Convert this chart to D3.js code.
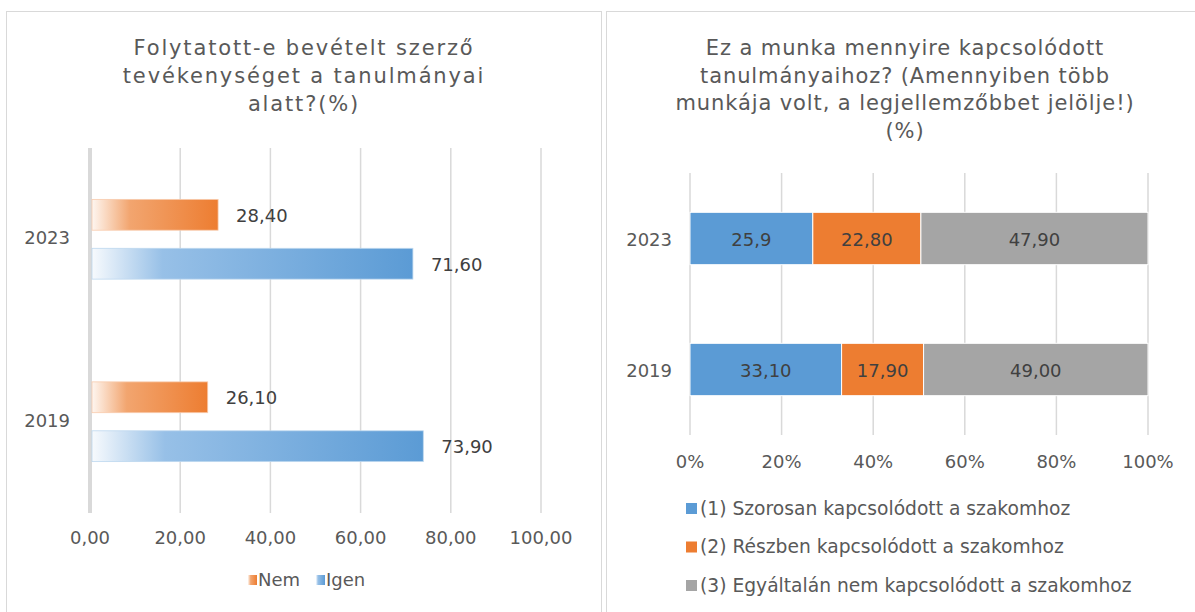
<html>
  <head>
    <meta charset="utf-8">
    <style>
body { margin: 0; background: white; }
text { font-family: 'DejaVu Sans', Verdana, sans-serif; }
.grid line { stroke: #d9d9d9; stroke-width: 1.5; }
.tick-label { fill: #595959; font-size: 18px; }
.data-label { fill: #404040; font-size: 18px; }
.title { fill: #595959; font-size: 21px; }
.legend-text { fill: #595959; font-size: 18.7px; }
    </style>
    <script src="https://d3js.org/d3.v7.min.js"></script>
  </head>
  <body>
    <script>

// left chart data
var years = ['2023', '2019'];
var seriesLeft = ['Nem', 'Igen'];
var nemValues = [28.40, 26.10];
var igenValues = [71.60, 73.90];
var ticksLeft = [0, 20, 40, 60, 80, 100];
var titleLeft = ['Folytatott-e bevételt szerző', 'tevékenységet a tanulmányai', 'alatt?(%)'];

// right chart data
var seriesRight = ['(1) Szorosan kapcsolódott a szakomhoz',
                   '(2) Részben kapcsolódott a szakomhoz',
                   '(3) Egyáltalán nem kapcsolódott a szakomhoz'];
var szorosan = [25.9, 33.10];
var reszben = [22.80, 17.90];
var egyaltalan = [47.90, 49.00];
var szorosanLabels = ['25,9', '33,10'];
var reszbenLabels = ['22,80', '17,90'];
var egyaltalanLabels = ['47,90', '49,00'];
var ticksRight = [0, 0.2, 0.4, 0.6, 0.8, 1];
var titleRight = ['Ez a munka mennyire kapcsolódott', 'tanulmányaihoz? (Amennyiben több',
                  'munkája volt, a legjellemzőbbet jelölje!)', '(%)'];

var colorsRight = ['#5b9bd5', '#ed7d31', '#a5a5a5'];

var huLocale = d3.formatLocale({decimal: ',', thousands: ' ', grouping: [3], currency: ['', '']});
var fmt2 = huLocale.format('.2f');

var width = 1195, height = 612;

var svg = d3.select('body')
    .append('svg')
    .attr('width', width)
    .attr('height', height);

var defs = svg.append('defs');

function addGradient(id, stops) {
  var g = defs.append('linearGradient')
      .attr('id', id)
      .attr('x1', '0').attr('x2', '1')
      .attr('y1', '0').attr('y2', '0');
  stops.forEach(function(s) {
    g.append('stop').attr('offset', s[0]).attr('stop-color', s[1]);
  });
}
addGradient('gradNem', [[0, '#fef6f0'], [0.3, '#f2a56f'], [1, '#ed7d31']]);
addGradient('gradIgen', [[0, '#f7fafd'], [0.22, '#97c0e7'], [1, '#5b9bd5']]);

// panel borders
svg.append('rect')
    .attr('x', 6.5).attr('y', 11.5)
    .attr('width', 595).attr('height', 620)
    .attr('fill', 'none').attr('stroke', '#d9d9d9');
svg.append('rect')
    .attr('x', 606.5).attr('y', 11.5)
    .attr('width', 620).attr('height', 620)
    .attr('fill', 'none').attr('stroke', '#d9d9d9');

// ---------- left chart ----------
var left = svg.append('g');

left.append('text')
    .attr('class', 'title')
    .attr('text-anchor', 'middle')
    .style('letter-spacing', '1.85px')
    .selectAll('tspan')
    .data(titleLeft)
    .enter().append('tspan')
    .attr('x', 304)
    .attr('y', function(d, i) { return 55 + i * 28; })
    .text(function(d) { return d; });

var xL = d3.scaleLinear().domain([0, 100]).range([90, 541]);
var yL = d3.scaleBand().domain(years).range([148, 513]).padding(0);
var ySubL = d3.scaleBand().domain(seriesLeft).range([0, yL.bandwidth()])
    .paddingInner(0.37).paddingOuter(1.05);

var gridL = left.append('g').attr('class', 'grid');
gridL.selectAll('line')
    .data(ticksLeft)
    .enter().append('line')
    .attr('x1', function(d) { return xL(d); })
    .attr('x2', function(d) { return xL(d); })
    .attr('y1', 148)
    .attr('y2', 513)
    .style('stroke-width', function(d) { return d === 0 ? 4 : 1.5; });

left.selectAll('.xtick')
    .data(ticksLeft)
    .enter().append('text')
    .attr('class', 'tick-label')
    .attr('x', function(d) { return xL(d); })
    .attr('y', 544)
    .attr('text-anchor', 'middle')
    .text(function(d) { return fmt2(d); });

left.selectAll('.ylab')
    .data(years)
    .enter().append('text')
    .attr('class', 'tick-label')
    .attr('x', 70)
    .attr('y', function(d) { return yL(d) + yL.bandwidth() / 2 + 5; })
    .attr('text-anchor', 'end')
    .text(function(d) { return d; });

var leftRows = [];
years.forEach(function(y, i) {
  leftRows.push({year: y, key: 'Nem', value: nemValues[i]});
  leftRows.push({year: y, key: 'Igen', value: igenValues[i]});
});

left.selectAll('.bar')
    .data(leftRows)
    .enter().append('rect')
    .attr('x', xL(0) + 2)
    .attr('y', function(d) { return yL(d.year) + ySubL(d.key); })
    .attr('width', function(d) { return xL(d.value) - xL(0) - 2; })
    .attr('height', ySubL.bandwidth())
    .attr('fill', function(d) { return d.key === 'Nem' ? 'url(#gradNem)' : 'url(#gradIgen)'; })
    .attr('stroke', function(d) { return d.key === 'Nem' ? '#f8cbad' : '#bdd7ee'; })
    .attr('stroke-width', 0.8);

left.selectAll('.lab')
    .data(leftRows)
    .enter().append('text')
    .attr('class', 'data-label')
    .attr('x', function(d) { return xL(d.value) + 18; })
    .attr('y', function(d) { return yL(d.year) + ySubL(d.key) + ySubL.bandwidth() / 2 + 7; })
    .text(function(d) { return fmt2(d.value); });

// legend
var legL = left.append('g').attr('transform', 'translate(248,580)');
var legLx = [0, 68];
seriesLeft.forEach(function(s, i) {
  legL.append('rect')
      .attr('x', legLx[i]).attr('y', -5)
      .attr('width', 9).attr('height', 10)
      .attr('fill', i === 0 ? 'url(#gradNem)' : 'url(#gradIgen)');
  legL.append('text')
      .attr('class', 'legend-text')
      .style('font-size', '18px')
      .attr('x', legLx[i] + 10).attr('y', 6)
      .text(s);
});

// ---------- right chart ----------
var right = svg.append('g');

right.append('text')
    .attr('class', 'title')
    .attr('text-anchor', 'middle')
    .style('letter-spacing', '0.9px')
    .selectAll('tspan')
    .data(titleRight)
    .enter().append('tspan')
    .attr('x', 905)
    .attr('y', function(d, i) { return 55 + i * 27.7; })
    .text(function(d) { return d; });

var xR = d3.scaleLinear().domain([0, 1]).range([690, 1148]);
var yR = d3.scaleBand().domain(years).range([173, 435]).paddingInner(0.6).paddingOuter(0.3);

var gridR = right.append('g').attr('class', 'grid');
gridR.selectAll('line')
    .data(ticksRight)
    .enter().append('line')
    .attr('x1', function(d) { return xR(d); })
    .attr('x2', function(d) { return xR(d); })
    .attr('y1', 173)
    .attr('y2', 435);

right.selectAll('.xtick')
    .data(ticksRight)
    .enter().append('text')
    .attr('class', 'tick-label')
    .attr('x', function(d) { return xR(d); })
    .attr('y', 468)
    .attr('text-anchor', 'middle')
    .text(function(d) { return d3.format('.0%')(d); });

right.selectAll('.ylab')
    .data(years)
    .enter().append('text')
    .attr('class', 'tick-label')
    .attr('x', 672)
    .attr('y', function(d) { return yR(d) + yR.bandwidth() / 2 + 7; })
    .attr('text-anchor', 'end')
    .text(function(d) { return d; });

var rightTable = years.map(function(y, i) {
  return {year: y, s0: szorosan[i], s1: reszben[i], s2: egyaltalan[i]};
});
var rightLabels = [szorosanLabels, reszbenLabels, egyaltalanLabels];

var stacked = d3.stack()
    .keys(['s0', 's1', 's2'])
    .offset(d3.stackOffsetExpand)(rightTable);

stacked.forEach(function(layer, si) {
  var g = right.append('g');
  g.selectAll('rect')
      .data(layer)
      .enter().append('rect')
      .attr('x', function(d) { return xR(d[0]); })
      .attr('y', function(d) { return yR(d.data.year); })
      .attr('width', function(d) { return xR(d[1]) - xR(d[0]); })
      .attr('height', yR.bandwidth())
      .attr('fill', colorsRight[si])
      .attr('stroke', 'white')
      .attr('stroke-width', 1);
  g.selectAll('text')
      .data(layer)
      .enter().append('text')
      .attr('class', 'data-label')
      .attr('text-anchor', 'middle')
      .attr('x', function(d) { return (xR(d[0]) + xR(d[1])) / 2; })
      .attr('y', function(d) { return yR(d.data.year) + yR.bandwidth() / 2 + 7; })
      .text(function(d, i) { return rightLabels[si][i]; });
});

var legR = right.append('g').attr('transform', 'translate(686,508)');
seriesRight.forEach(function(s, i) {
  legR.append('rect')
      .attr('x', 0).attr('y', i * 38.5 - 5)
      .attr('width', 11).attr('height', 11)
      .attr('fill', colorsRight[i]);
  legR.append('text')
      .attr('class', 'legend-text')
      .attr('x', 14).attr('y', i * 38.5 + 6.5)
      .text(s);
});

    </script>
  </body>
</html>
